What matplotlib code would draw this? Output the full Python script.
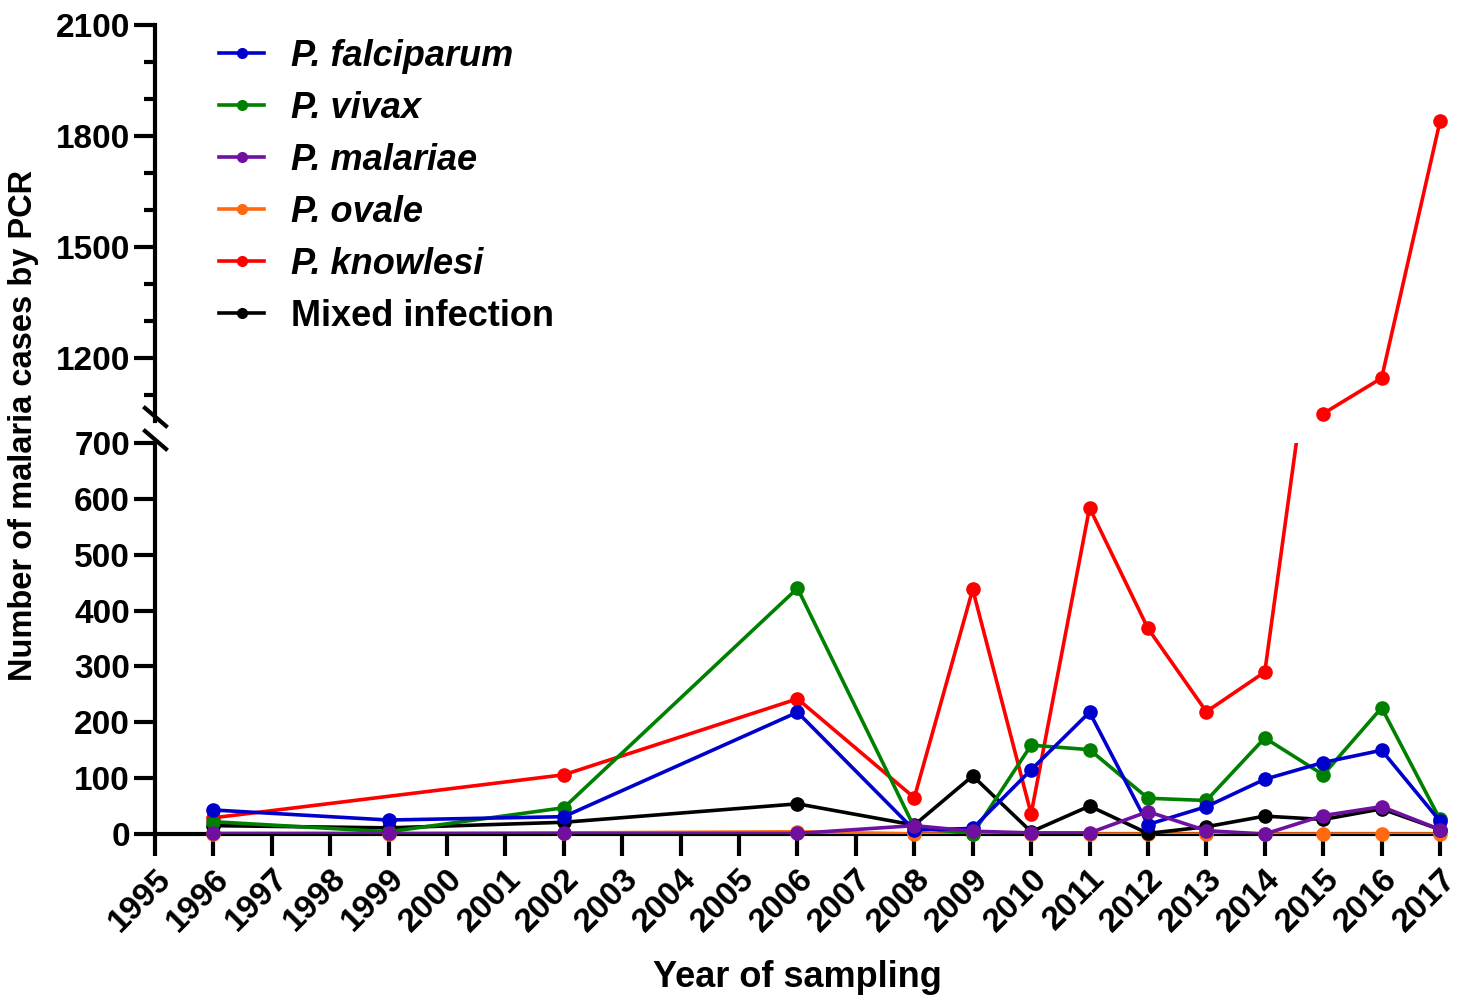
import numpy as np
import matplotlib
matplotlib.use('Agg')
import matplotlib.pyplot as plt
from matplotlib.ticker import MultipleLocator

plt.rcParams['font.family'] = ['Liberation Sans', 'DejaVu Sans']
plt.rcParams['font.weight'] = 'bold'

# data (None = no point that year)
years = [1996, 1999, 2002, 2006, 2008, 2009, 2010, 2011, 2012, 2013, 2014, 2015, 2016, 2017]
falciparum = [43, 25, 31, 218, 7, 10, 115, 218, 17, 49, 98, 128, 150, 23]
vivax = [22, 4, 47, 440, 12, 0, 159, 151, 64, 60, 172, 106, 226, 26]
malariae = [1, 1, 1, 1, 15, 5, 2, 2, 40, 6, 0, 33, 49, 8]
ovale = [0, 0, 2, 4, 0, 0, 0, 0, 0, 0, 0, 0, 0, 0]
knowlesi = [29, None, 106, 242, 65, 438, 36, 584, 368, 219, 290, 1050, 1146, 1840]
mixed = [15, 11, 21, 54, 16, 104, 4, 50, 1, 13, 32, 26, 45, 8]

names = ['P. falciparum', 'P. vivax', 'P. malariae', 'P. ovale', 'P. knowlesi', 'Mixed infection']
values = [falciparum, vivax, malariae, ovale, knowlesi, mixed]
colors = ['#0000CC', '#008000', '#7010A0', '#FF6A10', '#FF0000', '#000000']
# drawing order on the plot (front-most last)
zorders = [8, 7, 9, 5, 4, 6]

fig = plt.figure(figsize=(14.63, 10), dpi=100)
ax_lo = fig.add_axes([0.1059, 0.166, 0.8784, 0.391])
ax_hi = fig.add_axes([0.1059, 0.579, 0.8784, 0.396])

lo_lim = (0, 700)
hi_lim = (1030, 2100)
sw = 3.0

for ax, lim in ((ax_lo, lo_lim), (ax_hi, hi_lim)):
    for vals, col, z in zip(values, colors, zorders):
        xs = [x for x, v in zip(years, vals) if v is not None]
        ys = [v for v in vals if v is not None]
        ax.plot(xs, ys, color=col, lw=2.6, zorder=z)
        inside = [(x, y) for x, y in zip(xs, ys) if lim[0] <= y <= lim[1]]
        if inside:
            ax.plot([p[0] for p in inside], [p[1] for p in inside], 'o',
                    color=col, ms=9.5, clip_on=False, zorder=z + 0.5)
    ax.set_xlim(1995, 2017)
    ax.set_ylim(*lim)
    for s in ('top', 'right'):
        ax.spines[s].set_visible(False)
    ax.spines['left'].set_linewidth(sw)
    ax.spines['left'].set_zorder(20)
    ax.tick_params(axis='y', which='major', length=15, width=sw, labelsize=24, pad=3)
    ax.tick_params(axis='y', which='minor', length=8, width=sw)

ax_hi.spines['bottom'].set_visible(False)
ax_hi.set_xticks([])
ax_hi.yaxis.set_minor_locator(MultipleLocator(100))
ax_hi.set_yticks([1200, 1500, 1800, 2100])

ax_lo.yaxis.set_major_locator(MultipleLocator(100))
ax_lo.spines['bottom'].set_linewidth(sw)
ax_lo.spines['bottom'].set_zorder(2)
ax_lo.set_xticks(range(1995, 2018))
ax_lo.set_xticklabels([str(y) for y in range(1995, 2018)], rotation=45,
                      ha='right', rotation_mode='anchor', fontsize=24)
ax_lo.tick_params(axis='x', length=16, width=sw, pad=5)
ax_lo.set_xlabel('Year of sampling', fontsize=26, fontweight='bold', labelpad=16)

for ax in (ax_lo, ax_hi):
    for lab in ax.get_yticklabels() + ax.get_xticklabels():
        lab.set_fontweight('bold')

fig.text(0.016, 0.575, 'Number of malaria cases by PCR', rotation=90,
         ha='center', va='center', fontsize=23.5, fontweight='bold')

# break marks on the y axis
kw = dict(color='black', lw=sw, clip_on=False, transform=fig.transFigure)
x0, x1 = 145 / 1463, 166 / 1463
fig.add_artist(plt.Line2D([x0, x1], [1 - 408 / 1000, 1 - 426 / 1000], **kw))
fig.add_artist(plt.Line2D([x0, x1], [1 - 431 / 1000, 1 - 449 / 1000], **kw))

handles = [plt.Line2D([], [], color=c, lw=2.6, marker='o', ms=7) for c in colors]
leg = ax_hi.legend(handles, names, loc='upper left',
                   bbox_to_anchor=(0.033, 1.02), frameon=False, fontsize=26,
                   handlelength=1.25, handletextpad=0.75, labelspacing=0.47,
                   borderaxespad=0.2)
for t in leg.get_texts():
    t.set_fontweight('bold')
    if t.get_text().startswith('P.'):
        t.set_fontstyle('italic')

fig.savefig('out.png', dpi=100, facecolor='white')
